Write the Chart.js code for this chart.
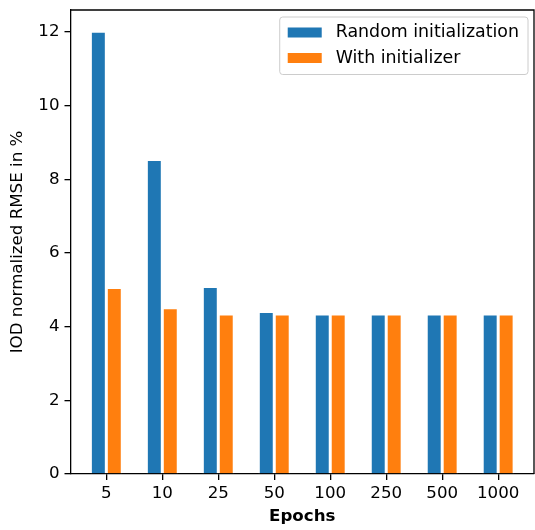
<!DOCTYPE html>
<html>
<head>
<meta charset="utf-8">
<script src="https://cdn.jsdelivr.net/npm/chart.js@4.4.1/dist/chart.umd.min.js"></script>
<style>
  html, body { margin: 0; padding: 0; background: #fff; }
  canvas { display: block; }
</style>
</head>
<body>
<canvas id="rmseChart" width="535" height="530"></canvas>
<script>
const epochs = ["5", "10", "25", "50", "100", "250", "500", "1000"];
const randomInit = [12.0, 8.52, 5.07, 4.39, 4.32, 4.32, 4.32, 4.32];
const withInit = [5.04, 4.49, 4.32, 4.32, 4.32, 4.32, 4.32, 4.32];
const yTicks = [0, 2, 4, 6, 8, 10, 12];

const FONT = "'DejaVu Sans', sans-serif";
const FS = 16.67;
const blue = "#1f77b4";
const orange = "#ff7f0e";
// white edge round each bar, thinner on top so the fill reaches the value
const barEdge = { left: 1.5, right: 1.5, top: 0.7, bottom: 0 };

// matplotlib-ish legend box in the upper right corner of the plot
const legendBox = {
  id: "legendBox",
  afterDraw(chart) {
    const { ctx, chartArea } = chart;
    ctx.save();
    ctx.font = "17.4px " + FONT;
    const items = chart.data.datasets.map(d => ({ label: d.label, color: d.backgroundColor }));
    const textW = Math.max(...items.map(it => ctx.measureText(it.label).width));
    const handleW = 34, handleH = 10, padL = 8, gap = 14, padR = 9;
    const w = padL + handleW + gap + textW + padR;
    const h = 57.5;
    const x = chartArea.right - 6 - w;
    const y = chartArea.top + 7;

    ctx.beginPath();
    ctx.roundRect(x, y, w, h, 3);
    ctx.fillStyle = "rgba(255,255,255,0.8)";
    ctx.fill();
    ctx.lineWidth = 1;
    ctx.strokeStyle = "#cccccc";
    ctx.stroke();

    items.forEach((it, i) => {
      const cy = y + 15.5 + i * 25.5;
      ctx.fillStyle = it.color;
      ctx.fillRect(x + padL, cy - handleH / 2, handleW, handleH);
      ctx.fillStyle = "#000";
      ctx.textBaseline = "middle";
      ctx.fillText(it.label, x + padL + handleW + gap, cy);
    });
    ctx.restore();
  }
};

// top and right spines
const frame = {
  id: "frame",
  afterDraw(chart) {
    const { ctx, chartArea: a } = chart;
    ctx.save();
    ctx.strokeStyle = "#000";
    ctx.lineWidth = 1.3;
    ctx.beginPath();
    ctx.moveTo(a.left, a.top);
    ctx.lineTo(a.right, a.top);
    ctx.lineTo(a.right, a.bottom);
    ctx.stroke();
    ctx.restore();
  }
};

const ctx = document.getElementById("rmseChart").getContext("2d");
new Chart(ctx, {
  type: "bar",
  data: {
    datasets: [
      {
        label: "Random initialization",
        data: randomInit.map((v, i) => ({ x: i, y: v })),
        backgroundColor: blue,
        borderColor: "#ffffff",
        borderWidth: barEdge,
        borderSkipped: false
      },
      {
        label: "With initializer",
        data: withInit.map((v, i) => ({ x: i, y: v })),
        backgroundColor: orange,
        borderColor: "#ffffff",
        borderWidth: barEdge,
        borderSkipped: false
      }
    ]
  },
  options: {
    responsive: false,
    animation: false,
    devicePixelRatio: 1,
    categoryPercentage: 0.57,
    barPercentage: 1.0,
    layout: { padding: { top: 0, right: 1, left: 0, bottom: 0 } },
    plugins: {
      legend: { display: false },
      tooltip: { enabled: false }
    },
    scales: {
      x: {
        type: "linear",
        offset: false,
        min: -0.64,
        max: 7.64,
        afterFit: s => { s.height = 56; },
        afterBuildTicks: s => { s.ticks = epochs.map((e, i) => ({ value: i })); },
        ticks: {
          callback: v => epochs[v],
          color: "#000",
          font: { family: FONT, size: FS },
          padding: 4,
          maxRotation: 0
        },
        grid: { drawOnChartArea: false, offset: false, color: "#000", lineWidth: 1.3, tickLength: 6 },
        border: { color: "#000", width: 1.3 },
        title: {
          display: true,
          text: "Epochs",
          color: "#000",
          font: { family: FONT, size: FS, weight: "bold" },
          padding: { top: 0, bottom: 3 }
        }
      },
      y: {
        min: 0,
        max: 12.6,
        afterFit: s => { s.width = 70.5; s.paddingTop = 10; },
        afterBuildTicks: s => { s.ticks = yTicks.map(v => ({ value: v })); },
        ticks: {
          color: "#000",
          font: { family: FONT, size: FS },
          padding: 5
        },
        grid: { drawOnChartArea: false, color: "#000", lineWidth: 1.3, tickLength: 6 },
        border: { color: "#000", width: 1.3 },
        title: {
          display: true,
          text: "IOD normalized RMSE in %",
          color: "#000",
          font: { family: FONT, size: FS },
          padding: { top: 8, bottom: 0 }
        }
      }
    }
  },
  plugins: [legendBox, frame]
});
</script>
</body>
</html>
